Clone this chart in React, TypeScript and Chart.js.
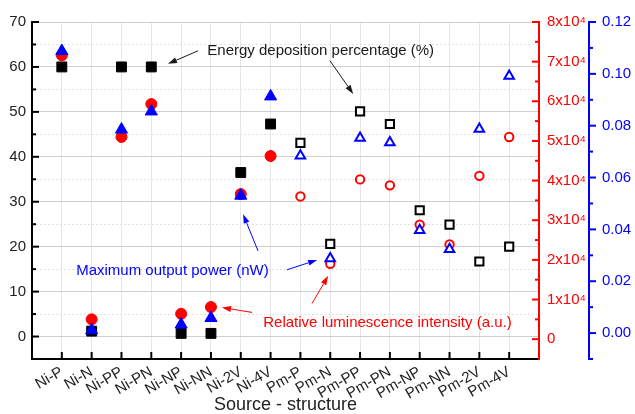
import React, { useEffect, useRef } from 'react';
import { Chart, registerables } from 'chart.js';

Chart.register(...registerables);

const FONT = '"Liberation Sans", Arial, sans-serif';

const categories = ['Ni-P', 'Ni-N', 'Ni-PP', 'Ni-PN', 'Ni-NP', 'Ni-NN', 'Ni-2V', 'Ni-4V', 'Pm-P', 'Pm-N', 'Pm-PP', 'Pm-PN', 'Pm-NP', 'Pm-NN', 'Pm-2V', 'Pm-4V'];
const energyDeposition = [60, 1.2, 60, 60, 0.7, 0.7, 36.5, 47.3, 43.1, 20.6, 50.1, 47.3, 28.1, 24.9, 16.7, 20.0];
const luminescence = [71600, 5000, 51000, 59300, 6400, 8100, 36600, 46200, 36000, 19000, 40300, 38800, 28900, 23900, 41200, 51000];
const outputPower = [0.1088, 0.0011, 0.0785, 0.0855, 0.0033, 0.0058, 0.053, 0.0913, 0.0684, 0.0288, 0.0753, 0.0735, 0.0397, 0.0323, 0.0787, 0.0992];

const leftTicks = [0, 10, 20, 30, 40, 50, 60, 70];
const redTicks = [0, 10000, 20000, 30000, 40000, 50000, 60000, 70000, 80000];
const blueTicks = [0, 0.02, 0.04, 0.06, 0.08, 0.1, 0.12];

const annotations = [
  { text: 'Energy deposition percentage (%)', color: '#1a1a1a', x: 8.68, y: 63.6, arrows: [[4.57, 63.6, 3.56, 60.7], [8.99, 61.4, 9.77, 54.0]] },
  { text: 'Maximum output power (nW)', color: '#0000ff', x: 3.71, y: 14.6, arrows: [[7.55, 14.85, 8.56, 17.05], [6.58, 19.04, 6.08, 27.2]] },
  { text: 'Relative luminescence intensity (a.u.)', color: '#ff0000', x: 10.92, y: 3.15, arrows: [[6.38, 5.36, 5.37, 6.46], [8.39, 7.35, 8.93, 13.5]] },
];

const isNi = (c: string) => c.startsWith('Ni');

function mids(ticks: number[]) {
  const out: number[] = [];
  for (let i = 0; i < ticks.length - 1; i++) out.push((ticks[i] + ticks[i + 1]) / 2);
  return out;
}

function drawArrow(ctx: CanvasRenderingContext2D, x1: number, y1: number, x2: number, y2: number, color: string) {
  const ang = Math.atan2(y2 - y1, x2 - x1);
  const L = 9, W = 3;
  const bx = x2 - L * Math.cos(ang), by = y2 - L * Math.sin(ang);
  ctx.strokeStyle = color;
  ctx.fillStyle = color;
  ctx.lineWidth = 1;
  ctx.beginPath();
  ctx.moveTo(x1, y1);
  ctx.lineTo(bx, by);
  ctx.stroke();
  ctx.beginPath();
  ctx.moveTo(x2, y2);
  ctx.lineTo(bx + W * Math.sin(ang), by - W * Math.cos(ang));
  ctx.lineTo(bx - W * Math.sin(ang), by + W * Math.cos(ang));
  ctx.closePath();
  ctx.fill();
}

const decor = {
  id: 'decor',
  beforeDatasetsDraw(chart: any) {
    const { ctx, chartArea: a, scales } = chart;
    ctx.save();
    ctx.strokeStyle = '#e2e2e2';
    ctx.lineWidth = 1;
    ctx.setLineDash([2, 2]);
    for (const v of mids(leftTicks)) {
      const py = Math.round(scales.y.getPixelForValue(v)) + 0.5;
      ctx.beginPath();
      ctx.moveTo(a.left, py);
      ctx.lineTo(a.right, py);
      ctx.stroke();
    }
    ctx.restore();
  },
  afterDraw(chart: any) {
    const { ctx, chartArea: a, scales } = chart;
    ctx.save();
    const MAJ = 7, MIN = 4;
    const hTick = (x: number, y: number, len: number, color: string) => {
      ctx.strokeStyle = color;
      ctx.lineWidth = 2;
      ctx.beginPath();
      ctx.moveTo(x, y);
      ctx.lineTo(x + len, y);
      ctx.stroke();
    };
    // left axis
    leftTicks.forEach(v => hTick(a.left, scales.y.getPixelForValue(v), MAJ, '#000'));
    mids(leftTicks).forEach(v => hTick(a.left, scales.y.getPixelForValue(v), MIN, '#000'));
    // red axis (inward)
    redTicks.forEach(v => hTick(a.right, scales.yRed.getPixelForValue(v), -MAJ, '#ff0000'));
    mids(redTicks).forEach(v => hTick(a.right, scales.yRed.getPixelForValue(v), -MIN, '#ff0000'));
    // blue axis (outward)
    const bl = scales.yBlue.left;
    blueTicks.forEach(v => hTick(bl, scales.yBlue.getPixelForValue(v), MAJ, '#0000ff'));
    const bm = mids(blueTicks);
    bm.push(blueTicks[0] - (blueTicks[1] - blueTicks[0]) / 2);
    bm.forEach(v => hTick(bl, scales.yBlue.getPixelForValue(v), MIN, '#0000ff'));
    // x ticks inward
    ctx.strokeStyle = '#000';
    ctx.lineWidth = 2;
    categories.forEach((_, i) => {
      const px = scales.x.getPixelForValue(i);
      ctx.beginPath();
      ctx.moveTo(px, a.bottom);
      ctx.lineTo(px, a.bottom - MAJ);
      ctx.stroke();
    });
    // annotations
    ctx.font = `15px ${FONT}`;
    ctx.textAlign = 'center';
    ctx.textBaseline = 'middle';
    for (const an of annotations) {
      ctx.fillStyle = an.color;
      ctx.fillText(an.text, scales.x.getPixelForValue(an.x), scales.y.getPixelForValue(an.y));
      for (const [x1, y1, x2, y2] of an.arrows) {
        drawArrow(ctx, scales.x.getPixelForValue(x1), scales.y.getPixelForValue(y1), scales.x.getPixelForValue(x2), scales.y.getPixelForValue(y2), an.color);
      }
    }
    ctx.restore();
  },
};

export default function App() {
  const ref = useRef<HTMLCanvasElement | null>(null);
  useEffect(() => {
    if (!ref.current) return;
    const chart = new Chart(ref.current, {
      type: 'scatter',
      data: {
        datasets: [
          {
            label: 'Energy deposition percentage (%)',
            data: energyDeposition.map((v, i) => ({ x: i, y: v })),
            yAxisID: 'y',
            order: 3,
            pointStyle: 'rect',
            pointRadius: categories.map(c => (isNi(c) ? 7 : 5.8)),
            pointBorderWidth: categories.map(c => (isNi(c) ? 1 : 2)),
            pointBackgroundColor: categories.map(c => (isNi(c) ? '#000' : '#fff')),
            pointBorderColor: '#000',
            showLine: false,
          },
          {
            label: 'Relative luminescence intensity (a.u.)',
            data: luminescence.map((v, i) => ({ x: i, y: v })),
            yAxisID: 'yRed',
            order: 2,
            pointStyle: 'circle',
            pointRadius: categories.map(c => (isNi(c) ? 5.5 : 4.2)),
            pointBorderWidth: categories.map(c => (isNi(c) ? 1 : 2)),
            pointBackgroundColor: categories.map(c => (isNi(c) ? '#ff0000' : '#fff')),
            pointBorderColor: '#ff0000',
            showLine: false,
          },
          {
            label: 'Maximum output power (nW)',
            data: outputPower.map((v, i) => ({ x: i, y: v })),
            yAxisID: 'yBlue',
            order: 1,
            pointStyle: 'triangle',
            pointRadius: categories.map(c => (isNi(c) ? 7 : 5.5)),
            pointBorderWidth: categories.map(c => (isNi(c) ? 1 : 2)),
            pointBackgroundColor: categories.map(c => (isNi(c) ? '#0000ff' : '#fff')),
            pointBorderColor: '#0000ff',
            showLine: false,
          },
        ],
      },
      options: {
        responsive: true,
        maintainAspectRatio: false,
        animation: false,
        layout: { padding: { top: 19, left: 0, right: 0, bottom: 0 } },
        plugins: { legend: { display: false }, tooltip: { enabled: false } },
        scales: {
          x: {
            type: 'linear',
            min: -1,
            max: 16,
            afterBuildTicks: (s: any) => { s.ticks = categories.map((_, i) => ({ value: i })); },
            afterFit: (s: any) => { s.height = 55; },
            ticks: {
              autoSkip: false,
              minRotation: 30,
              maxRotation: 30,
              padding: 4,
              color: '#222',
              font: { size: 15, family: FONT },
              callback: (v: any) => categories[v] ?? '',
            },
            grid: { color: '#e6e6e6', drawTicks: false },
            border: { color: '#000', width: 2 },
            title: { display: true, text: 'Source - structure', color: '#222', font: { size: 18, family: FONT, lineHeight: 1 }, padding: { top: 0, bottom: 0 } },
          },
          y: {
            position: 'left',
            min: -5,
            max: 70,
            afterBuildTicks: (s: any) => { s.ticks = leftTicks.map(v => ({ value: v })); },
            afterFit: (s: any) => { s.width = 32; },
            ticks: { padding: 6, color: '#222', font: { size: 15, family: FONT } },
            grid: { color: '#cfcfcf', drawTicks: false },
            border: { color: '#000', width: 2 },
          },
          yRed: {
            position: 'right',
            weight: 1,
            min: -5000,
            max: 80000,
            afterBuildTicks: (s: any) => { s.ticks = redTicks.map(v => ({ value: v })); },
            afterFit: (s: any) => { s.width = 50; },
            ticks: {
              padding: 8,
              color: '#ff0000',
              font: { size: 15, family: FONT },
              callback: (v: any) => (v === 0 ? '0' : `${Math.round(v / 10000)}x10\u2074`),
            },
            grid: { drawOnChartArea: false, drawTicks: false },
            border: { color: '#ff0000', width: 2 },
          },
          yBlue: {
            position: 'right',
            weight: 2,
            min: -0.01,
            max: 0.12,
            afterBuildTicks: (s: any) => { s.ticks = blueTicks.map(v => ({ value: v })); },
            afterFit: (s: any) => { s.width = 46; },
            ticks: {
              padding: 13,
              color: '#0000ff',
              font: { size: 15, family: FONT },
              callback: (v: any) => Number(v).toFixed(2),
            },
            grid: { drawOnChartArea: false, drawTicks: false },
            border: { color: '#0000ff', width: 2 },
          },
        },
      } as any,
      plugins: [decor],
    });
    return () => chart.destroy();
  }, []);
  return (
    <div style={{ position: 'fixed', left: 0, top: 0, width: 635, height: 414, background: '#fff' }}>
      <canvas ref={ref} />
    </div>
  );
}
